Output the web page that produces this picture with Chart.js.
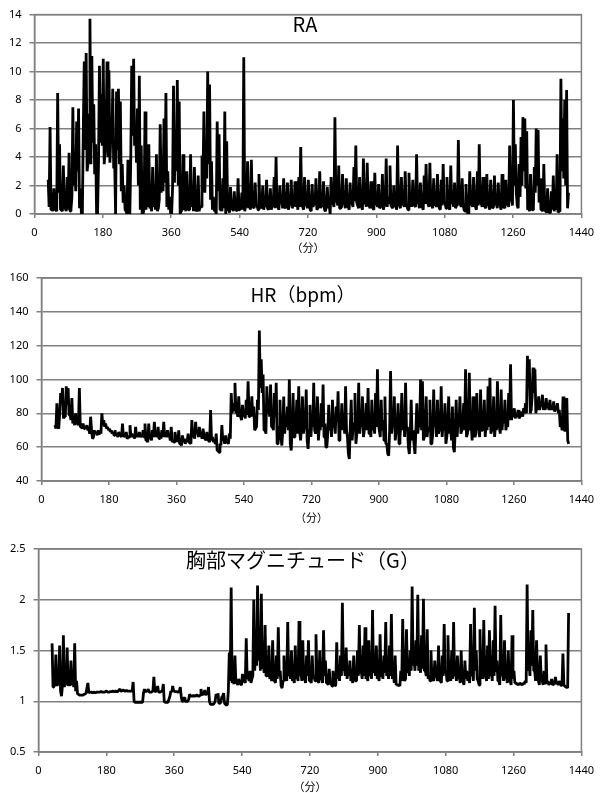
<!DOCTYPE html>
<html>
<head>
<meta charset="utf-8">
<script src="https://cdn.jsdelivr.net/npm/chart.js@4/dist/chart.umd.min.js"></script>
<style>
  body { margin: 0; background: #fff; width: 602px; height: 793px; position: relative; overflow: hidden; }
  canvas { position: absolute; left: 0; }
  .ttl { position: absolute; transform: translate(-50%, -50%); white-space: nowrap; line-height: 1;
         font-family: "Noto Sans CJK JP", "Noto Sans", sans-serif; color: #000; }
</style>
</head>
<body>
<canvas id="ra" width="602" height="262" style="top:0px"></canvas>
<canvas id="hr" width="602" height="265" style="top:262px"></canvas>
<canvas id="mag" width="602" height="266" style="top:527px"></canvas>
<div class="ttl" style="left:305px;top:24px;font-size:20px">RA</div>
<div class="ttl" style="left:303px;top:293px;font-size:19px">HR（bpm）</div>
<div class="ttl" style="left:303px;top:560px;font-size:20px">胸部マグニチュード（G）</div>

<script>
// readings every 5 minutes from minute 36; "low" arrays are the troughs read halfway between them
const startMin = 36;
const stepMin = 5;

const xTicks = [0, 180, 360, 540, 720, 900, 1080, 1260, 1440];
const xLabel = "（分）";

const raValues = [
  2.4, 6.1, 0.6, 1.8, 0.3, 8.5, 4.9, 0.3, 3.4, 0.4, 2.6, 4.3,
  0.3, 7.5, 3.8, 6.5, 7.4, 1.8, 0.0, 10.7, 11.3, 3.6, 13.7, 11.1,
  7.7, 4.9, 0.0, 10.4, 8.4, 10.9, 4.5, 10.7, 10.1, 5.5, 8.8, 3.8,
  8.6, 8.8, 7.9, 3.5, 2.0, 0.2, 3.8, 0.0, 10.4, 10.9, 6.2, 7.4,
  9.7, 4.8, 0.0, 7.2, 1.5, 4.9, 0.5, 3.3, 1.2, 4.2, 0.4, 6.3,
  3.2, 6.7, 8.5, 3.0, 1.2, 0.0, 9.0, 5.3, 9.4, 7.9, 0.2, 4.2,
  0.5, 3.0, 0.3, 4.2, 1.5, 3.3, 0.2, 2.7, 0.6, 4.1, 7.2, 4.9,
  10.0, 9.1, 3.7, 1.2, 0.3, 6.5, 5.6, 0.4, 2.5, 7.2, 5.1, 0.3,
  1.9, 0.4, 1.6, 0.3, 2.5, 0.5, 1.5, 11.0, 0.6, 3.7, 1.0, 3.8,
  0.5, 2.2, 0.6, 2.8, 0.4, 2.0, 0.8, 2.4, 0.3, 1.8, 0.7, 2.6,
  4.0, 0.5, 2.0, 0.9, 2.5, 0.4, 2.2, 0.8, 2.4, 0.6, 2.3, 0.9,
  2.6, 4.7, 0.5, 2.6, 0.7, 2.4, 0.3, 2.1, 0.8, 2.5, 0.4, 3.0,
  0.7, 2.3, 0.2, 1.9, 0.6, 2.6, 0.8, 6.8, 0.9, 3.4, 0.4, 2.8,
  0.7, 2.5, 0.5, 2.2, 0.8, 3.3, 4.8, 0.6, 2.6, 0.5, 3.9, 1.0,
  3.6, 0.6, 2.3, 0.4, 2.9, 0.7, 2.1, 0.5, 2.8, 0.6, 3.9, 1.2,
  3.4, 0.5, 2.0, 0.7, 4.8, 0.6, 2.6, 0.8, 3.0, 0.5, 2.9, 0.9,
  2.4, 0.6, 4.2, 0.8, 2.2, 0.5, 2.7, 3.5, 0.9, 3.6, 0.6, 2.5,
  0.7, 2.8, 0.4, 2.4, 3.5, 0.8, 2.6, 0.5, 3.4, 1.0, 2.2, 0.6,
  5.2, 0.7, 2.5, 0.3, 2.1, 0.0, 3.0, 0.8, 2.6, 0.5, 3.0, 4.9,
  0.8, 2.6, 0.5, 2.8, 0.7, 2.4, 0.4, 2.7, 0.8, 2.2, 0.6, 2.8,
  0.5, 2.4, 0.8, 4.8, 1.0, 8.0, 4.9, 0.6, 3.5, 5.4, 6.8, 6.7,
  5.8, 0.4, 2.8, 0.3, 3.3, 6.0, 5.9, 2.5, 0.3, 3.5, 0.2, 1.8,
  0.1, 1.6, 2.7, 0.5, 4.2, 0.2, 9.5, 6.7, 8.0, 8.7, 1.5
];
const raLow = [
  0.5, 0.3, 0.2, 0.4, 0.2, 1.5, 0.3, 0.2, 0.5, 0.2, 0.3, 0.2,
  1.2, 2.0, 1.6, 3.0, 0.4, 0.0, 6.0, 4.5, 3.0, 7.0, 3.5, 5.0,
  2.8, 0.0, 3.5, 5.0, 4.8, 3.5, 6.0, 4.0, 3.6, 4.9, 3.2, 0.0,
  4.5, 3.5, 1.6, 0.8, 0.3, 0.0, 0.6, 4.0, 5.5, 4.8, 3.6, 2.0,
  0.3, 0.0, 0.4, 0.3, 0.5, 0.4, 0.2, 0.5, 0.3, 0.2, 1.0, 1.5,
  1.6, 2.2, 0.5, 0.3, 0.0, 1.8, 2.2, 3.0, 2.0, 0.0, 0.3, 0.3,
  0.2, 0.4, 0.3, 0.5, 0.2, 0.6, 0.3, 0.2, 0.5, 2.2, 1.5, 2.5,
  3.5, 1.0, 0.3, 0.2, 0.0, 1.6, 0.3, 0.2, 0.4, 0.0, 0.3, 0.1,
  0.3, 0.2, 0.4, 0.2, 0.3, 0.3, 0.3, 0.2, 0.5, 0.4, 0.3, 0.5,
  0.4, 0.6, 0.3, 0.5, 0.6, 0.3, 0.5, 0.4, 0.6, 0.3, 0.5, 0.4,
  0.6, 0.3, 0.7, 0.4, 0.5, 0.8, 0.3, 0.6, 0.4, 0.7, 0.5, 0.3,
  0.5, 0.8, 0.3, 0.6, 0.4, 0.7, 0.2, 0.5, 0.6, 0.3, 0.7, 0.4,
  0.5, 0.3, 0.6, 0.4, 0.0, 0.7, 0.5, 0.9, 0.6, 0.4, 0.5, 0.8,
  0.4, 0.6, 0.3, 0.7, 0.5, 0.9, 0.8, 0.4, 0.6, 0.3, 0.7, 0.5,
  0.8, 0.4, 0.6, 0.3, 0.7, 0.5, 0.4, 0.6, 0.3, 0.7, 0.5, 0.8,
  0.6, 0.4, 0.5, 0.3, 0.8, 0.4, 0.6, 0.5, 0.7, 0.3, 0.6, 0.5,
  0.7, 0.5, 0.8, 0.4, 0.6, 0.3, 0.7, 0.9, 0.5, 0.8, 0.4, 0.6,
  0.5, 0.7, 0.3, 0.6, 0.8, 0.4, 0.6, 0.3, 0.7, 0.5, 0.4, 0.6,
  0.9, 0.5, 0.7, 0.2, 0.4, 0.0, 0.6, 0.5, 0.7, 0.3, 0.6, 0.8,
  0.5, 0.7, 0.4, 0.6, 0.3, 0.7, 0.5, 0.6, 0.4, 0.7, 0.3, 0.5,
  0.4, 0.6, 0.5, 1.0, 0.6, 2.0, 1.5, 0.4, 1.2, 2.0, 3.0, 1.8,
  0.3, 0.2, 0.4, 0.3, 1.5, 2.0, 0.8, 0.3, 0.2, 0.3, 0.1, 0.2,
  0.1, 0.3, 0.2, 0.3, 0.1, 0.5, 3.0, 2.5, 2.0, 0.4
];

const hrValues = [
  73, 86, 71, 92, 95, 78, 96, 95, 80, 89, 76, 80,
  74, 95, 72, 74, 72, 73, 71, 78, 65, 70, 69, 70,
  70, 80, 76, 74, 72, 71, 70, 69, 70, 68, 69, 67,
  74, 67, 69, 66, 73, 68, 67, 72, 68, 69, 67, 70,
  74, 64, 74, 66, 70, 75, 68, 72, 67, 70, 75, 68,
  70, 67, 72, 64, 69, 66, 70, 62, 67, 65, 64, 68,
  63, 76, 67, 75, 70, 72, 67, 71, 66, 69, 64, 82,
  66, 64, 68, 58, 62, 73, 65, 67, 63, 68, 92, 86,
  98, 82, 90, 78, 85, 80, 88, 99, 82, 90, 84, 71,
  88, 129, 112, 103, 71, 96, 88, 97, 72, 92, 98, 62,
  88, 61, 90, 75, 84, 100, 58, 92, 70, 88, 96, 64,
  90, 72, 94, 59, 85, 76, 98, 68, 90, 72, 86, 97,
  74, 60, 85, 76, 88, 74, 84, 93, 70, 86, 78, 96,
  66, 53, 88, 72, 92, 68, 98, 75, 90, 70, 86, 95,
  72, 88, 74, 92, 106, 70, 88, 76, 90, 62, 55, 105,
  74, 90, 70, 86, 66, 92, 80, 98, 72, 56, 88, 70,
  56, 86, 74, 100, 99, 66, 90, 72, 88, 62, 94, 76,
  88, 70, 96, 74, 86, 66, 90, 72, 84, 57, 88, 76,
  90, 70, 86, 106, 68, 104, 74, 90, 66, 92, 72, 94,
  70, 88, 76, 96, 101, 70, 90, 74, 99, 72, 94, 80,
  88, 74, 92, 109, 80, 83, 79, 82, 78, 81, 83, 86,
  114, 112, 82, 107, 106, 85, 90, 86, 91, 84, 89, 86,
  88, 84, 87, 83, 86, 82, 74, 90, 70, 89, 62
];
const hrLow = [
  71, 72, 80, 86, 77, 78, 85, 79, 76, 74, 73, 74,
  73, 72, 71, 71, 71, 70, 68, 70, 66, 68, 67, 68,
  68, 73, 72, 71, 70, 69, 68, 67, 67, 66, 67, 66,
  66, 66, 65, 66, 66, 66, 65, 66, 66, 66, 66, 66,
  64, 63, 65, 64, 66, 66, 66, 65, 65, 66, 66, 66,
  66, 64, 63, 63, 65, 63, 62, 61, 63, 62, 63, 63,
  62, 66, 65, 68, 66, 67, 65, 66, 64, 64, 63, 64,
  63, 62, 58, 57, 61, 64, 62, 63, 62, 65, 80, 82,
  80, 78, 79, 76, 78, 77, 79, 78, 80, 78, 70, 72,
  82, 95, 92, 70, 68, 80, 78, 72, 70, 78, 62, 72,
  66, 70, 68, 72, 70, 62, 72, 66, 74, 68, 70, 72,
  68, 74, 64, 70, 66, 72, 70, 74, 64, 70, 72, 66,
  60, 68, 70, 66, 72, 68, 75, 64, 72, 70, 68, 70,
  56, 72, 64, 74, 62, 70, 68, 72, 66, 74, 70, 68,
  66, 70, 68, 72, 74, 66, 70, 64, 62, 56, 70, 68,
  72, 64, 70, 62, 74, 70, 66, 70, 60, 68, 64, 62,
  70, 68, 72, 70, 64, 74, 66, 70, 62, 68, 72, 66,
  68, 72, 66, 70, 62, 74, 68, 64, 60, 70, 66, 72,
  68, 74, 70, 66, 72, 70, 64, 72, 68, 70, 66, 70,
  74, 66, 70, 72, 68, 74, 66, 70, 72, 68, 70, 74,
  70, 72, 76, 76, 78, 77, 78, 77, 79, 78, 80, 80,
  95, 80, 90, 92, 80, 82, 82, 84, 82, 82, 83, 82,
  82, 82, 81, 82, 80, 72, 70, 70, 70, 64
];

const magValues = [
  1.57, 1.16, 1.46, 1.17, 1.55, 1.05, 1.65, 1.18, 1.53, 1.27, 1.40, 1.22,
  1.57, 1.20, 1.07, 1.06, 1.06, 1.07, 1.08, 1.18, 1.09, 1.09, 1.09, 1.08,
  1.09, 1.09, 1.10, 1.09, 1.09, 1.10, 1.09, 1.10, 1.10, 1.09, 1.10, 1.10,
  1.12, 1.10, 1.11, 1.10, 1.10, 1.10, 1.10, 1.19, 0.99, 0.99, 0.99, 0.99,
  0.99, 1.12, 1.10, 1.12, 1.09, 1.10, 1.24, 1.10, 1.15, 1.09, 1.10, 1.17,
  0.99, 0.99, 0.99, 1.10, 1.15, 1.10, 1.10, 1.09, 1.14, 1.00, 1.04, 1.00,
  1.00, 1.07, 1.05, 1.06, 1.05, 1.06, 1.05, 1.12, 1.07, 1.11, 1.08, 1.14,
  0.97, 0.97, 0.98, 1.07, 1.08, 0.98, 1.04, 1.08, 0.97, 0.97, 1.48, 2.12,
  1.20, 1.45, 1.18, 1.22, 1.17, 1.27, 1.20, 1.62, 1.25, 1.30, 1.22, 2.00,
  1.50, 2.14, 1.60, 2.06, 1.40, 1.75, 1.30, 1.55, 1.25, 1.60, 1.20, 1.45,
  1.73, 1.30, 1.13, 1.45, 1.25, 1.78, 1.30, 1.50, 1.22, 1.55, 1.25, 1.79,
  1.30, 1.60, 1.22, 1.45, 1.60, 1.20, 1.45, 1.25, 1.66, 1.20, 1.50, 1.22,
  1.70, 1.40, 1.18, 1.32, 1.17, 1.30, 1.15, 1.58, 1.30, 1.45, 1.97, 1.35,
  1.53, 1.30, 1.40, 1.22, 1.45, 1.20, 1.50, 1.75, 1.30, 1.55, 1.73, 1.25,
  1.60, 1.30, 1.90, 1.35, 1.55, 1.25, 1.66, 1.30, 1.45, 1.78, 1.30, 1.55,
  1.86, 1.30, 1.45, 1.17, 1.16, 1.30, 1.81, 1.20, 1.71, 1.35, 1.50, 2.13,
  1.45, 1.60, 2.05, 1.35, 1.65, 2.01, 1.30, 1.71, 1.25, 1.50, 1.22, 1.40,
  1.25, 1.55, 1.20, 1.45, 1.76, 1.30, 1.65, 1.25, 1.50, 1.78, 1.30, 1.45,
  1.25, 1.50, 1.20, 1.40, 1.30, 1.25, 1.76, 1.30, 1.92, 1.50, 1.20, 1.71,
  1.30, 1.80, 1.25, 1.55, 1.70, 1.30, 1.60, 1.94, 1.40, 1.20, 1.85, 1.30,
  1.60, 1.25, 1.50, 1.20, 1.65, 1.30, 1.18, 1.17, 1.18, 1.17, 1.18, 1.20,
  2.15, 1.40, 1.70, 1.90, 1.30, 1.60, 1.20, 1.45, 1.20, 1.30, 1.56, 1.20,
  1.18, 1.22, 1.17, 1.24, 1.18, 1.20, 1.16, 1.47, 1.15, 1.14, 1.87
];
const magLow = [
  1.14, 1.15, 1.15, 1.16, 1.10, 1.15, 1.14, 1.16, 1.15, 1.15, 1.16, 1.14,
  1.10, 1.07, 1.06, 1.06, 1.06, 1.07, 1.08, 1.08, 1.09, 1.08, 1.09, 1.09,
  1.09, 1.09, 1.09, 1.09, 1.10, 1.09, 1.09, 1.09, 1.10, 1.10, 1.09, 1.10,
  1.10, 1.11, 1.10, 1.11, 1.10, 1.10, 1.10, 1.00, 0.99, 0.99, 0.99, 0.99,
  1.08, 1.09, 1.10, 1.09, 1.09, 1.10, 1.09, 1.10, 1.09, 1.09, 1.10, 1.00,
  0.99, 0.99, 1.05, 1.09, 1.10, 1.09, 1.09, 1.10, 1.05, 1.00, 1.00, 1.00,
  1.02, 1.05, 1.05, 1.05, 1.06, 1.05, 1.06, 1.06, 1.07, 1.06, 1.07, 1.00,
  0.97, 0.97, 1.00, 1.05, 0.98, 0.99, 1.05, 0.98, 0.96, 1.10, 1.20, 1.18,
  1.17, 1.19, 1.16, 1.18, 1.16, 1.19, 1.18, 1.22, 1.20, 1.18, 1.25, 1.30,
  1.35, 1.40, 1.30, 1.32, 1.28, 1.25, 1.24, 1.22, 1.20, 1.25, 1.18, 1.22,
  1.25, 1.15, 1.20, 1.22, 1.20, 1.25, 1.22, 1.20, 1.18, 1.22, 1.20, 1.25,
  1.20, 1.22, 1.18, 1.25, 1.20, 1.18, 1.22, 1.20, 1.24, 1.18, 1.22, 1.18,
  1.25, 1.18, 1.16, 1.20, 1.15, 1.20, 1.16, 1.22, 1.20, 1.25, 1.30, 1.25,
  1.22, 1.25, 1.20, 1.18, 1.22, 1.20, 1.25, 1.28, 1.22, 1.25, 1.22, 1.20,
  1.25, 1.22, 1.28, 1.25, 1.22, 1.20, 1.25, 1.22, 1.28, 1.25, 1.22, 1.25,
  1.22, 1.18, 1.16, 1.15, 1.15, 1.20, 1.25, 1.22, 1.28, 1.25, 1.30, 1.35,
  1.30, 1.35, 1.30, 1.28, 1.32, 1.30, 1.25, 1.22, 1.20, 1.22, 1.20, 1.25,
  1.20, 1.22, 1.18, 1.25, 1.28, 1.20, 1.25, 1.20, 1.22, 1.25, 1.20, 1.22,
  1.18, 1.20, 1.16, 1.22, 1.20, 1.18, 1.25, 1.20, 1.30, 1.22, 1.16, 1.25,
  1.22, 1.25, 1.20, 1.22, 1.25, 1.20, 1.25, 1.30, 1.20, 1.16, 1.25, 1.20,
  1.22, 1.18, 1.20, 1.16, 1.22, 1.18, 1.17, 1.16, 1.17, 1.16, 1.17, 1.18,
  1.30, 1.25, 1.35, 1.30, 1.20, 1.25, 1.16, 1.20, 1.16, 1.18, 1.17, 1.16,
  1.17, 1.16, 1.17, 1.18, 1.16, 1.17, 1.15, 1.16, 1.14, 1.13
];

const gridColor = "#808080";

// box around the plot area (right side is not drawn by the axes)
const framePlugin = {
  id: "frame",
  beforeDatasetsDraw(chart) {
    const { ctx, chartArea: a } = chart;
    ctx.save();
    ctx.strokeStyle = gridColor;
    ctx.lineWidth = 1.5;
    ctx.strokeRect(a.left, a.top, a.right - a.left, a.bottom - a.top);
    ctx.restore();
  }
};

function toPoints(values, lows) {
  let pts = [];
  values.forEach((v, i) => {
    let t = startMin + i * stepMin;
    pts.push({ x: t, y: v });
    if (lows[i] !== undefined) pts.push({ x: t + stepMin / 2, y: lows[i] });
  });
  return pts;
}

function makeChart(id, values, lows, y, box) {
  return new Chart(document.getElementById(id), {
    type: "line",
    data: {
      datasets: [{
        data: toPoints(values, lows),
        borderColor: "#000",
        borderWidth: 2.8,
        borderJoinStyle: "bevel",
        pointRadius: 0,
        tension: 0
      }]
    },
    options: {
      responsive: false,
      animation: false,
      layout: { padding: { top: box.top, right: box.right, bottom: 0, left: 0 } },
      plugins: { legend: { display: false }, tooltip: { enabled: false } },
      scales: {
        x: {
          type: "linear",
          min: 0, max: 1440,
          afterBuildTicks: s => { s.ticks = xTicks.map(v => ({ value: v })); },
          afterFit: s => { s.height = box.xHeight; },
          ticks: { color: "#000", font: { family: "Noto Sans", size: 11 }, padding: box.xPad,
                   maxRotation: 0, autoSkip: false, callback: v => String(v) },
          grid: { drawOnChartArea: false, tickLength: 4, color: gridColor, lineWidth: 1.5 },
          border: { color: gridColor, width: 1.5 },
          title: { display: true, text: xLabel, color: "#000",
                   font: { family: "Noto Sans CJK JP", size: 11 }, padding: { top: 0, bottom: box.titlePad } }
        },
        y: {
          min: y.min, max: y.max,
          afterBuildTicks: s => { s.ticks = y.ticks.map(v => ({ value: v })); },
          afterFit: s => { s.width = box.left; },
          ticks: { color: "#000", font: { family: "Noto Sans", size: 11 }, padding: 8,
                   callback: v => String(v) },
          grid: { tickLength: 5, color: gridColor, lineWidth: 1.5 },
          border: { color: gridColor, width: 1.5 }
        }
      }
    },
    plugins: [framePlugin]
  });
}

makeChart("ra", raValues, raLow,
  { min: 0, max: 14, ticks: [0, 2, 4, 6, 8, 10, 12, 14] },
  { top: 12, right: 15, left: 34.5, xHeight: 48, xPad: 8, titlePad: 7.4 });

makeChart("hr", hrValues, hrLow,
  { min: 40, max: 160, ticks: [40, 60, 80, 100, 120, 140, 160] },
  { top: 16, right: 20.5, left: 41.5, xHeight: 46, xPad: 8, titlePad: 2.4 });

makeChart("mag", magValues, magLow,
  { min: 0.5, max: 2.5, ticks: [0.5, 1, 1.5, 2, 2.5] },
  { top: 22, right: 14, left: 38.5, xHeight: 41, xPad: 8, titlePad: 0 });
</script>
</body>
</html>
